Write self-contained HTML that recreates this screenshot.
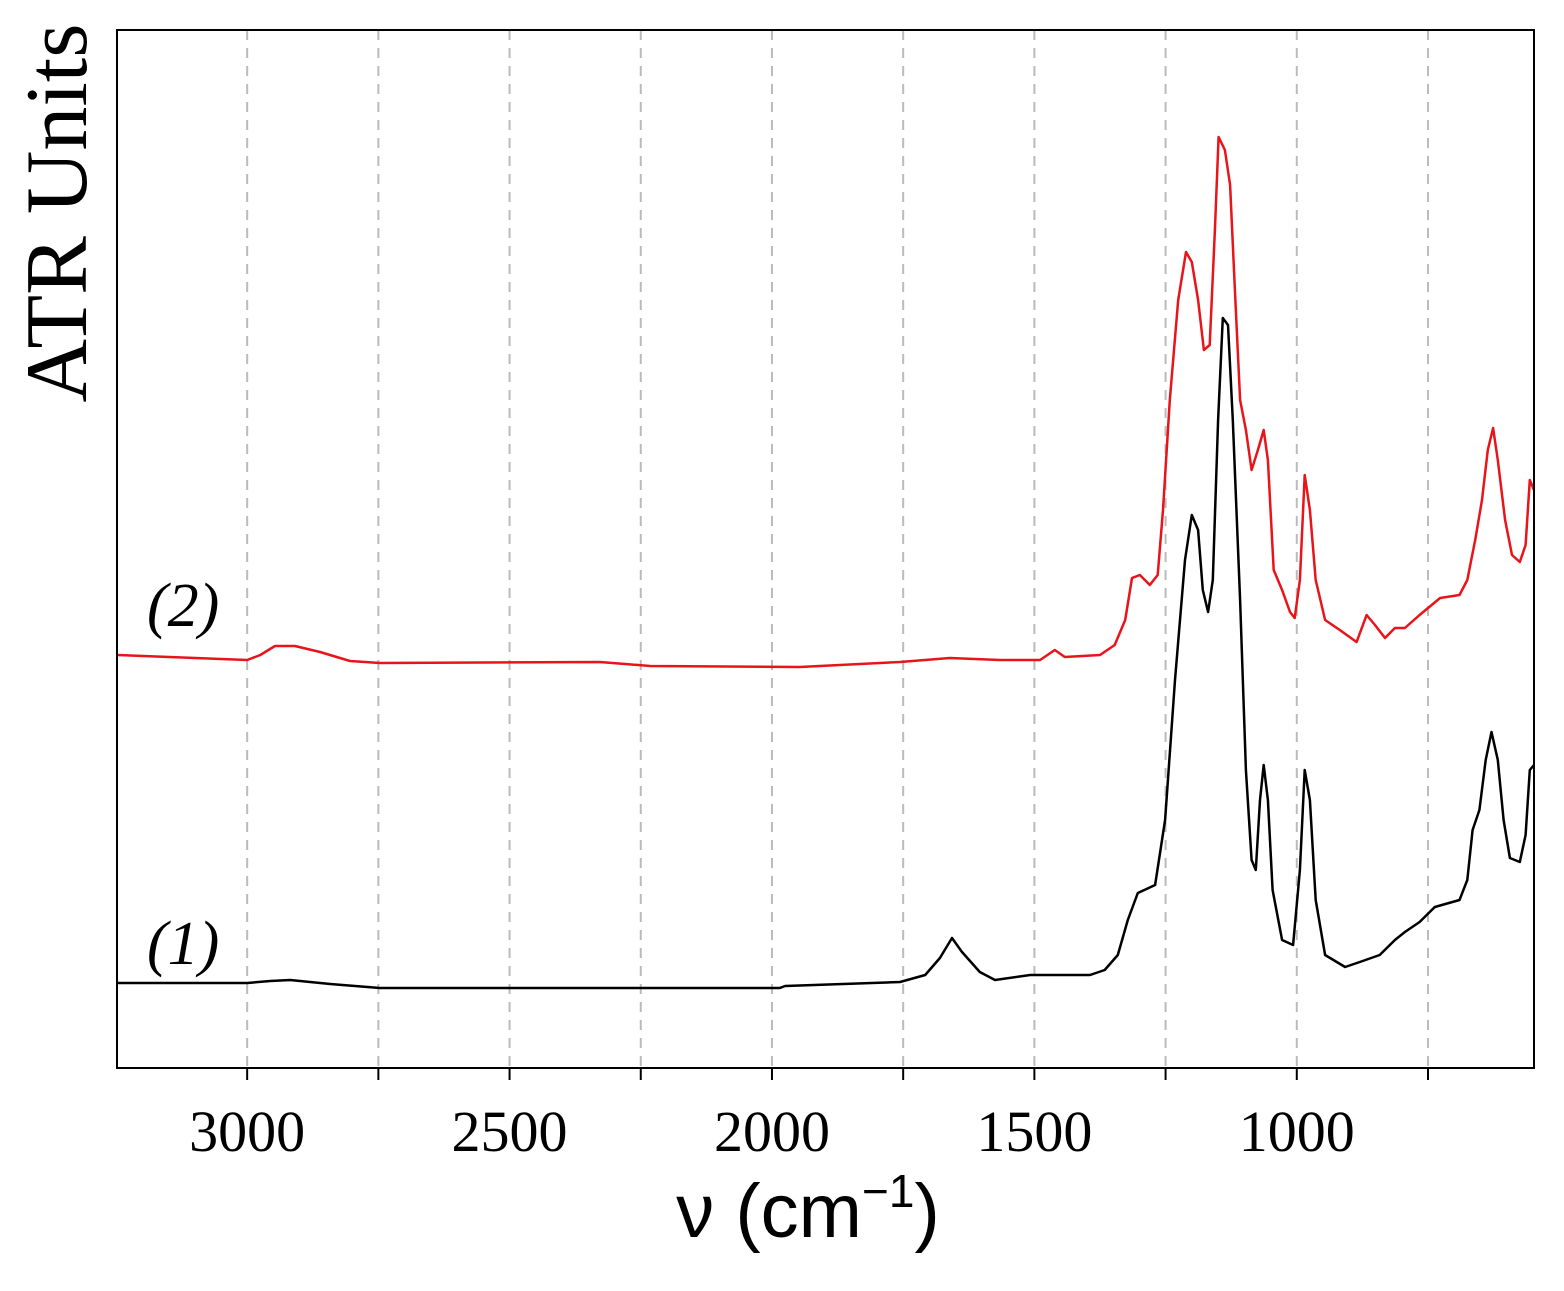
<!DOCTYPE html>
<html><head><meta charset="utf-8">
<style>
html,body{margin:0;padding:0;background:#fff;}
svg{display:block;}
</style></head>
<body>
<svg id="chart" width="1564" height="1291" viewBox="0 0 1564 1291" xmlns="http://www.w3.org/2000/svg">
  <g id="grid"></g>
  <g id="series"></g>
  <rect x="117" y="30" width="1417" height="1038" fill="none" stroke="#000" stroke-width="2"/>
  <g id="ticks"></g>
  <text x="808" y="1237" text-anchor="middle" font-family="Liberation Sans, sans-serif" font-size="76">ν (cm<tspan font-size="46" dy="-30">−1</tspan><tspan dy="30">)</tspan></text>
  <text transform="translate(86,213) rotate(-90)" text-anchor="middle" font-family="Liberation Serif, serif" font-size="88">ATR Units</text>
  <text x="147" y="964" font-family="Liberation Serif, serif" font-style="italic" font-size="62">(1)</text>
  <text x="147" y="626" font-family="Liberation Serif, serif" font-style="italic" font-size="62">(2)</text>
</svg>
<script>
const tickValues = [3000, 2500, 2000, 1500, 1000];
const gridValues = [3000, 2750, 2500, 2250, 2000, 1750, 1500, 1250, 1000, 750];
const s1Wavenumber = [3248,3000,2956,2918,2842,2747,1985,1975,1756,1708,1680,1657,1638,1604,1575,1508,1451,1394,1366,1341,1322,1303,1270,1251,1232,1213,1200,1188,1179,1169,1160,1150,1141,1131,1122,1108,1097,1086,1078,1070,1063,1055,1046,1028,1007,994,985,975,964,946,908,880,842,813,794,766,737,690,675,665,652,640,629,617,606,594,575,564,556,548];
const s1Value = [85,85,87,88,84,80,80,82,86,93,110,130,116,96,88,93,93,93,98,113,148,175,183,248,388,508,553,538,478,456,488,648,750,743,648,468,298,208,198,268,303,268,178,128,123,198,298,268,168,113,101,106,113,128,136,146,161,168,188,238,258,308,336,308,248,210,206,233,298,303];
const s2Wavenumber = [3248,3000,2975,2947,2909,2861,2804,2747,2328,2232,1947,1756,1661,1566,1489,1461,1442,1375,1347,1327,1314,1299,1280,1265,1255,1242,1226,1211,1200,1188,1177,1166,1156,1149,1137,1127,1118,1108,1097,1086,1074,1063,1055,1044,1028,1013,1004,994,985,975,964,946,918,886,867,851,832,813,794,766,727,690,675,660,647,636,626,617,603,590,575,564,556,548];
const s2Value = [413,408,413,422,422,416,407,405,406,402,401,406,410,408,408,418,411,413,423,448,490,493,483,493,558,668,768,816,806,768,718,723,838,931,918,883,778,668,638,598,618,638,608,498,478,456,450,488,593,558,488,448,438,426,453,443,430,440,440,453,470,473,488,528,568,618,640,608,548,513,506,523,588,578];

const X0 = 117, X1 = 1534, Y0 = 30, Y1 = 1068;
const xMin = 3248, xMax = 548;
function xScale(v){ return X0 + (xMin - v) / (xMin - xMax) * (X1 - X0); }
function yScale(v){ return Y1 - v; }
const NS = 'http://www.w3.org/2000/svg';

const grid = document.getElementById('grid');
const ticks = document.getElementById('ticks');
gridValues.forEach(v => {
  const x = xScale(v);
  const l = document.createElementNS(NS, 'line');
  l.setAttribute('x1', x); l.setAttribute('x2', x);
  l.setAttribute('y1', Y0); l.setAttribute('y2', Y1);
  l.setAttribute('stroke', '#bbb'); l.setAttribute('stroke-width', '2');
  l.setAttribute('stroke-dasharray', '10,8');
  
  
  grid.appendChild(l);
  const t = document.createElementNS(NS, 'line');
  t.setAttribute('x1', x); t.setAttribute('x2', x);
  t.setAttribute('y1', Y1); t.setAttribute('y2', Y1 + 12);
  t.setAttribute('stroke', '#000'); t.setAttribute('stroke-width', '2');
  
  
  ticks.appendChild(t);
});
tickValues.forEach(v => {
  const tx = document.createElementNS(NS, 'text');
  tx.setAttribute('x', xScale(v)); tx.setAttribute('y', 1151);
  tx.setAttribute('text-anchor', 'middle');
  tx.setAttribute('font-family', 'Liberation Serif, serif');
  tx.setAttribute('font-size', '58');
  tx.textContent = v;
  
  
  ticks.appendChild(tx);
});

function drawSeries(xs, ys, color, name){
  const d = xs.map((v,i) => (i ? 'L' : 'M') + xScale(v).toFixed(1) + ',' + yScale(ys[i]).toFixed(1)).join(' ');
  const p = document.createElementNS(NS, 'path');
  p.setAttribute('d', d);
  p.setAttribute('fill', 'none');
  p.setAttribute('stroke', color);
  p.setAttribute('stroke-width', '2.5');
  p.setAttribute('stroke-linejoin', 'round');
  
  
  document.getElementById('series').appendChild(p);
}
drawSeries(s2Wavenumber, s2Value, '#e8141a', 'series-2-line');
drawSeries(s1Wavenumber, s1Value, '#000', 'series-1-line');
</script>
</body></html>
